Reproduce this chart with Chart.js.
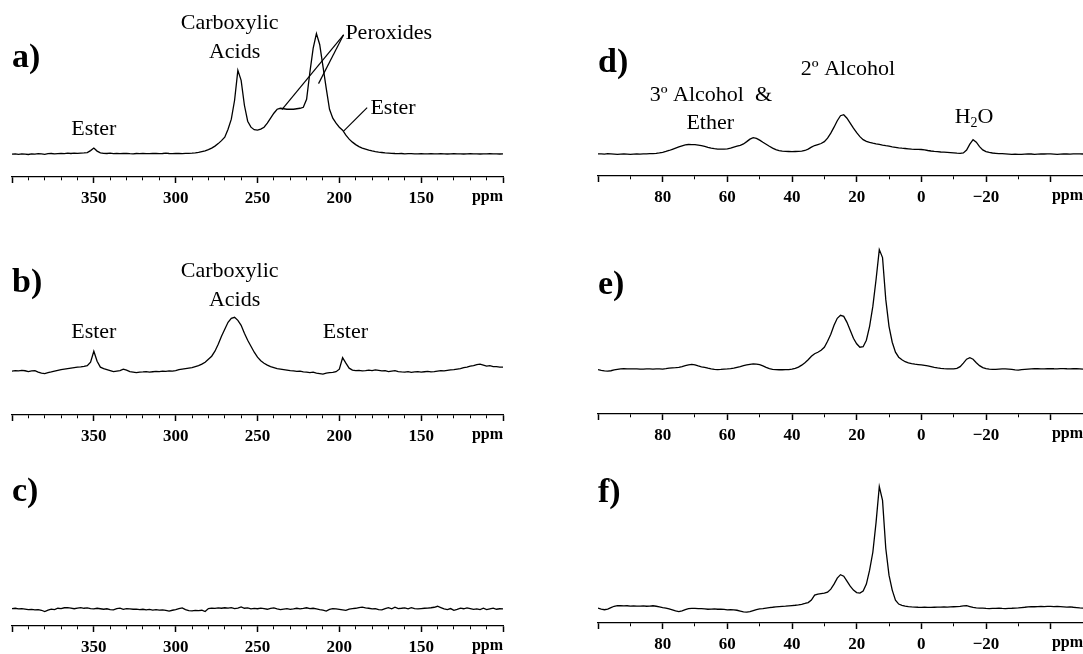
<!DOCTYPE html>
<html>
<head>
<meta charset="utf-8">
<script src="https://cdn.jsdelivr.net/npm/chart.js@4.4.1/dist/chart.umd.min.js"></script>
<style>
  html, body { margin: 0; padding: 0; background: #fff; overflow: hidden; }
  #wrap { position: relative; width: 1083px; height: 654px; overflow: hidden; }
  #wrap canvas { position: absolute; }
</style>
</head>
<body>
<div id="wrap"></div>
<script>
// x grids: left column 400 -> 100 ppm every 2 ppm, right column 100 -> -50 ppm every 1 ppm
const LEFT_START = 400, LEFT_STEP = 2;
const RIGHT_START = 100, RIGHT_STEP = 1;

const leftTickLabels = [350, 300, 250, 200, 150];
const rightTickLabels = [80, 60, 40, 20, 0, -20];

// intensities (arbitrary units), one row = 10 points
const specA = [
  0, 0.3, -0.3, 0.2, 0, -0.4, 0.3, 0, 0.5, 0.2,          // 400
  -0.2, 0.4, 0.6, 0.2, 0.5, 0.8, 0.5, 0.9, 0.6, 1,       // 380
  0.8, 1, 1.2, 1.5, 3.5, 6, 3, 1.2, 0.8, 0.6,            // 360
  0.9, 0.5, 0.7, 0.4, 0.6, 0.8, 0.5, 0.3, 0.6, 0.4,      // 340
  0.7, 0.5, 0.4, 0.6, 0.8, 0.5, 0.6, 1.0, 0.6, 0.5,      // 320
  0.7, 0.6, 0.5, 0.7, 0.8, 1, 1.3, 1.8, 2.5, 3.2,        // 300
  4.5, 6, 8, 10.5, 13.5, 17, 25, 35, 54, 84,             // 280
  74, 49, 33, 27, 24.5, 24, 25, 27, 31, 36,              // 260
  41, 45, 46, 45.5, 45, 45, 45, 45.5, 46, 47,            // 240
  55, 82, 106, 121, 110, 88, 66, 45, 36, 31,             // 220
  27, 24, 19, 15, 12, 9.5, 7.5, 6, 5, 4,                 // 200
  3.2, 2.5, 2, 1.6, 1.2, 1, 0.8, 0.6, 0.5, 0.6,          // 180
  0.3, 0.4, 0.5, 0.3, 0.2, 0.4, 0.3, 0.2, 0.5, 0.3,      // 160
  0.2, 0.4, 0.3, 0.1, 0.3, 0.4, 0.2, 0.3, 0.1, 0.3,      // 140
  0.4, 0.2, 0.3, 0.1, 0.3, 0.2, 0.4, 0.2, 0.3, 0.1,      // 120
  0.2                                                    // 100
];

const specB = [
  0, 0.5, 0.2, 0.8, 0.4, -0.5, 0.2, 0.6, -1, -2,         // 400
  -2.5, -1.5, -0.8, 0, 0.8, 1.5, 2, 2.5, 3, 3.5,         // 380
  4, 4.3, 4.8, 5.5, 9, 20, 10, 4, 2.5, 1.5,              // 360
  0.5, -0.5, 0, 0.5, 2, 1, -0.5, -1, -1.5, -1,           // 340
  -0.8, -0.5, -1, -0.6, -0.3, -0.5, 0, -0.3, 0.2, 0,     // 320
  0.5, 1.5, 2, 2.5, 3, 3.5, 4.5, 5.5, 7, 9,              // 300
  12, 15, 20, 27, 35, 42, 49, 53, 54, 51,                // 280
  46, 38, 31, 25, 19, 14, 10.5, 8, 6, 4.5,               // 260
  3.5, 2.5, 2, 1.5, 1, 0.5, 0.2, -0.3, 0, -0.8,          // 240
  -1, -1.5, -1, -2, -2.5, -3, -2, -1.5, -1.2, -0.5,      // 220
  2, 13.5, 8, 3, 1, 0.5, 0.8, 0.3, 0.6, 1,               // 200
  0.5, 1.2, 0.8, 0.2, 0.5, -0.5, 0, 0.5, -0.5, -0.8,     // 180
  -1, -0.5, -1.2, -0.8, -0.5, -1, -0.6, -0.3, -0.8, -0.5,// 160
  0, 0.5, 0.2, 0.8, 1.2, 1.5, 2, 2.5, 3.5, 4,            // 140
  5, 5.5, 6.5, 7, 6, 5, 5.5, 4.5, 4.5, 4,                // 120
  4                                                      // 100
];

const specC = [
  0.5, 0.8, 0.2, 0.5, 0, -0.5, -0.3, -0.8, -0.5, -1.2,   // 400
  -2.5, -1, 0, -0.5, 0.8, 0.5, 1.3, 1.5, 1, 0.3,         // 380
  1, 1.5, 0.8, 1.2, 0.5, 0.2, 0.8, 0.3, -0.2, 0.3,       // 360
  -0.5, -0.8, 0.5, 1, -0.3, 0.5, 0.2, -0.2, 0, -0.5,     // 340
  -0.2, -0.8, -0.4, -1, -0.6, -1, -0.8, -1.3, -2, -1.2,  // 320
  -0.5, 0.5, 1.2, -0.5, -1.5, -1.8, -1.4, -1.6, -1.2, -2.5, // 300
  0.5, 1, 0.6, 1.2, 0.8, 1.3, 0.9, 1.5, 0.5, 1,          // 280
  2.2, 0.8, 1.2, 0.2, 0.6, 0.3, 1, 0.5, -0.2, 0.6,       // 260
  1.2, 0.2, -0.5, 0, 0.5, -0.3, 0.2, 0.8, 0.2, 0.6,      // 240
  1.3, 0.5, 0.8, 0.2, -0.5, -1, -2, -0.3, 0.5, 0.2,      // 220
  -0.3, -0.8, -1.3, 0, 0.5, 0.8, 1.5, 2, 1.2, 0.8,       // 200
  0.2, 0.5, -0.5, -0.8, 0.5, 1.5, 0.3, 1.8, 0.5, 0.8,    // 180
  1.2, 0.3, 1.5, 0.5, 0.2, 0.5, 0.8, 1, 1.3, 1.8,        // 160
  2.8, 1.5, 0.2, -0.5, 0.5, -1.2, -0.3, 1, 0.3, 1.2,     // 140
  0.5, -0.3, 0.2, -0.5, 0.8, -0.6, 0.3, 1, -0.2, 0.3,    // 120
  0.2                                                    // 100
];

const specD = [
  0.3, 0.2, 0, 0.4, 0.2, 0, -0.2, 0, 0.2, 0,             // 100
  -0.2, 0, 0.1, 0, 0.2, 0.3, 0.4, 0.5, 0.8, 1.2,         // 90
  1.8, 2.6, 3.6, 4.8, 6, 7.2, 8.3, 9.3, 9.6, 9.5,        // 80
  9.4, 9, 8.5, 7.7, 6.8, 6, 5.4, 5, 4.9, 5,              // 70
  5.3, 6, 7, 8, 8.8, 10.2, 12.5, 15, 16.5, 15.8,         // 60
  14, 11.8, 9.8, 7.8, 6, 4.5, 3.5, 3, 2.7, 2.6,          // 50
  2.5, 2.6, 2.7, 3, 3.6, 5, 7, 8.6, 9.6, 10.6,           // 40
  12.5, 16, 21, 27, 33.5, 38.5, 39.5, 36, 31, 26,        // 30
  21.5, 17.5, 14.5, 12.8, 11.8, 11, 10.3, 9.7, 9, 8.4,   // 20
  7.9, 7.3, 6.8, 6.3, 5.9, 5.6, 5.3, 5, 4.8, 4.8,        // 10
  4.6, 4.2, 3.6, 3.1, 2.7, 2.4, 2.1, 1.9, 1.7, 1.5,      // 0
  1.2, 0.9, 0.7, 1.2, 4, 10, 14.5, 12, 7.5, 4.2,         // -10
  2.5, 1.7, 1.1, 0.8, 0.5, 0.4, 0.2, 0, -0.2, 0,         // -20
  -0.3, -0.2, 0, 0.2, 0.1, -0.2, 0, 0.2, 0.1, 0.3,       // -30
  0.2, 0, -0.2, 0, 0.2, 0.1, -0.1, 0.2, 0.3, 0.2,        // -40
  0.1                                                    // -50
];

const specE = [
  -0.5, -1.2, -1.8, -2, -1.6, -0.8, -0.2, 0.3, 0.5, 0.3, // 100
  0.2, 0.3, 0.2, 0, 0.1, 0.3, 0.2, 0.1, 0.3, 0.2,        // 90
  0.1, 0.5, 1, 1.3, 1.5, 1.8, 2.5, 3.5, 4.3, 4.8,        // 80
  4.2, 3.2, 2.4, 1.8, 1, 0.3, -0.3, -0.5, -0.3, 0,       // 70
  0.2, 0.5, 1, 1.8, 2.6, 3.5, 4.2, 4.8, 5.2, 5,          // 60
  4.6, 3.3, 1.8, 0.5, -0.2, -0.5, -0.6, -0.6, -0.5, -0.4,// 50
  0, 0.8, 2, 4, 6.5, 9.5, 13, 15.5, 17, 19,              // 40
  22, 28, 35, 44, 51, 54, 53, 47, 39, 31,                // 30
  25.5, 22, 22.5, 29, 43, 63, 90, 120, 112, 70,          // 20
  43, 27, 17, 12, 9.5, 7.5, 6.3, 5.6, 5, 4.6,            // 10
  4.2, 3.8, 3.2, 2.5, 1.8, 1.2, 0.8, 0.5, 0.3, 0.2,      // 0
  0.3, 0.8, 2.5, 6, 10, 11.5, 10, 6.5, 3.5, 1.5,         // -10
  0.5, 0, -0.3, -0.2, 0, 0.2, 0.3, 0.1, -0.2, -0.8,      // -20
  -1, -0.5, -0.2, 0, 0.2, 0.4, 0.5, 0.3, 0.2, 0.4,       // -30
  0.6, 0.4, 0.3, 0.5, 0.6, 0.4, 0.3, 0.5, 0.4, 0.2,      // -40
  0                                                      // -50
];

const specF = [
  0, -1, -1.7, -1, 0.5, 1.8, 2.4, 2.3, 2.2, 2.3,         // 100
  2, 2.1, 1.9, 2, 2.1, 1.8, 2, 2.3, 1.8, 1.2,            // 90
  0.5, 0, -0.8, -1.8, -2.8, -3.5, -2.8, -1.5, -0.5, -0.3,// 80
  -0.4, -0.6, -0.5, -0.8, -1.2, -1, -0.8, -1.2, -1, -1.3,// 70
  -1.8, -1.5, -1.8, -2.2, -3, -3.8, -4, -3.5, -2.5, -1.5,// 60
  -0.8, -0.5, 0, 0.5, 0.8, 1.2, 1.5, 1.7, 1.9, 2.2,      // 50
  2.5, 2.8, 3.2, 3.8, 4.6, 5.5, 8, 13, 14, 14.5,         // 40
  15, 16, 19, 24, 30, 33.5, 32, 27, 22, 18,              // 30
  15.5, 15, 17, 24, 38, 56, 86, 122, 108, 60,            // 20
  33, 18, 8, 4, 2.8, 2, 1.5, 1.2, 1, 0.8,                // 10
  0.7, 0.8, 0.7, 0.6, 0.8, 1, 0.9, 1.1, 1, 1.2,          // 0
  1.3, 1.4, 1.6, 2.2, 2.4, 1.5, 0.6, 0.2, -0.1, 0,       // -10
  -0.3, -0.5, -0.4, -0.3, -0.2, -0.4, -0.5, -0.3, -0.2, 0, // -20
  0.2, 0.5, 0.8, 1.2, 1.5, 1.3, 1.5, 1.6, 1.4, 1.6,      // -30
  1.7, 1.5, 1.6, 1.4, 1.2, 1, 1.2, 0.8, 0.5, 0.2,        // -40
  0                                                      // -50
];

// annotations, placed in data coordinates (ppm, intensity)
const notesA = {
  label: 'a)', labelY: 96,
  texts: [
    { text: 'Carboxylic', x: 267, y: 131 },
    { text: 'Acids', x: 264, y: 102 },
    { text: 'Peroxides', x: 196.3, y: 121, align: 'left' },
    { text: 'Ester', x: 181, y: 46, align: 'left' },
    { text: 'Ester', x: 350, y: 25 }
  ],
  lines: [[197.4, 119.7, 235.1, 44.7], [197.4, 119.7, 212.7, 70.7], [183, 46.7, 197.4, 23]]
};
const notesB = {
  label: 'b)', labelY: 88,
  texts: [
    { text: 'Carboxylic', x: 267, y: 100 },
    { text: 'Acids', x: 264, y: 71 },
    { text: 'Ester', x: 350, y: 39 },
    { text: 'Ester', x: 196.3, y: 39 }
  ]
};
const notesC = { label: 'c)', labelY: 117, texts: [] };
const notesD = {
  label: 'd)', labelY: 91,
  texts: [
    { text: '2º Alcohol', x: 22.7, y: 85 },
    { text: '3º Alcohol  &', x: 65.1, y: 59.3 },
    { text: 'Ether', x: 65.3, y: 31.3 },
    { parts: [['H', 0], ['2', 1], ['O', 0]], x: -16.3, y: 36.5 }
  ]
};
const notesE = { label: 'e)', labelY: 84, texts: [] };
const notesF = { label: 'f)', labelY: 115, texts: [] };

const SERIF = '"Liberation Serif", "Times New Roman", serif';

function points(spec, start, step) {
  return spec.map((v, i) => ({ x: start - i * step, y: v }));
}

function fmt(v) {
  return v < 0 ? '\u2212' + Math.abs(v) : String(v);
}

function notesPlugin(notes) {
  return {
    id: 'notes',
    afterDraw(chart) {
      const { ctx, chartArea } = chart;
      const x = chart.scales.x, y = chart.scales.y;
      ctx.save();
      ctx.fillStyle = '#000';
      ctx.strokeStyle = '#000';
      ctx.lineWidth = 1.2;
      (notes.lines || []).forEach(l => {
        ctx.beginPath();
        ctx.moveTo(x.getPixelForValue(l[0]), y.getPixelForValue(l[1]));
        ctx.lineTo(x.getPixelForValue(l[2]), y.getPixelForValue(l[3]));
        ctx.stroke();
      });

      ctx.textBaseline = 'middle';
      notes.texts.forEach(t => {
        const px = x.getPixelForValue(t.x), py = y.getPixelForValue(t.y);
        if (t.parts) {
          const sizes = t.parts.map(p => p[1] ? 14 : 22);
          let total = 0;
          t.parts.forEach((p, i) => {
            ctx.font = sizes[i] + 'px ' + SERIF;
            total += ctx.measureText(p[0]).width;
          });
          let cx = px - total / 2;
          ctx.textAlign = 'left';
          t.parts.forEach((p, i) => {
            ctx.font = sizes[i] + 'px ' + SERIF;
            ctx.fillText(p[0], cx, py + (p[1] ? 6 : 0));
            cx += ctx.measureText(p[0]).width;
          });
        } else {
          ctx.font = '22px ' + SERIF;
          ctx.textAlign = t.align || 'center';
          ctx.fillText(t.text, px, py);
        }
      });

      // panel letter
      ctx.font = 'bold 34px ' + SERIF;
      ctx.textAlign = 'left';
      ctx.fillText(notes.label, chartArea.left, y.getPixelForValue(notes.labelY));

      // unit at the right end of the axis
      ctx.font = 'bold 16px ' + SERIF;
      ctx.textAlign = 'right';
      ctx.textBaseline = 'top';
      ctx.fillText('ppm', chartArea.right, chartArea.bottom + 12);
      ctx.restore();
    }
  };
}

const panels = [
  { spec: specA, notes: notesA, side: 'L', top: 0,   axisY: 177, baseY: 154 },
  { spec: specB, notes: notesB, side: 'L', top: 228, axisY: 415, baseY: 371 },
  { spec: specC, notes: notesC, side: 'L', top: 440, axisY: 626, baseY: 609 },
  { spec: specD, notes: notesD, side: 'R', top: 0,   axisY: 176, baseY: 154 },
  { spec: specE, notes: notesE, side: 'R', top: 228, axisY: 414, baseY: 369 },
  { spec: specF, notes: notesF, side: 'R', top: 440, axisY: 623, baseY: 608 }
];

const wrap = document.getElementById('wrap');

panels.forEach(p => {
  const left = p.side === 'L';
  const canvasLeft = left ? 0 : 540;
  // right column: canvas runs 6px past the window so the axis reaches the edge
  const width = left ? 540 : 549;
  const plotH = p.axisY - p.top;
  const canvas = document.createElement('canvas');
  canvas.width = width;
  canvas.height = plotH + 40;
  canvas.style.left = canvasLeft + 'px';
  canvas.style.top = p.top + 'px';
  wrap.appendChild(canvas);

  const labels = left ? leftTickLabels : rightTickLabels;
  const majorStep = left ? 50 : 20;
  const isMajor = v => Math.round(v) % majorStep === 0;

  const chart = new Chart(canvas, {
    type: 'line',
    data: {
      datasets: [{
        data: left ? points(p.spec, LEFT_START, LEFT_STEP) : points(p.spec, RIGHT_START, RIGHT_STEP),
        borderColor: '#000',
        borderWidth: 1.3,
        pointRadius: 0,
        tension: 0,
        fill: false
      }]
    },
    options: {
      responsive: false,
      maintainAspectRatio: false,
      animation: false,
      devicePixelRatio: 1,
      layout: { padding: { left: left ? 12 : 58, right: left ? 37 : 6, top: 0, bottom: 0 } },
      plugins: { legend: { display: false }, tooltip: { enabled: false } },
      scales: {
        x: {
          type: 'linear',
          reverse: true,
          min: left ? 100 : -50,
          max: left ? 400 : 100,
          border: { display: true, color: '#000', width: 1.3 },
          grid: {
            drawOnChartArea: false,
            drawTicks: true,
            tickLength: 6,
            tickColor: '#000',
            tickWidth: ctx => (ctx.tick && isMajor(ctx.tick.value)) ? 1.5 : 1,
            tickBorderDash: ctx => (ctx.tick && isMajor(ctx.tick.value)) ? [] : [3, 20]
          },
          ticks: {
            stepSize: 10,
            autoSkip: false,
            maxRotation: 0,
            padding: 5,
            color: '#000',
            font: { family: SERIF, weight: 'bold', size: 17 },
            callback: v => labels.includes(Math.round(v)) ? fmt(Math.round(v)) : ''
          }
        },
        y: {
          display: false,
          min: p.baseY - p.axisY,
          max: p.baseY - p.top
        }
      }
    },
    plugins: [notesPlugin(p.notes)]
  });

  // make the plot area end exactly on the axis line
  const xh = chart.scales.x.height;
  chart.resize(width, plotH + xh);
});
</script>
</body>
</html>
